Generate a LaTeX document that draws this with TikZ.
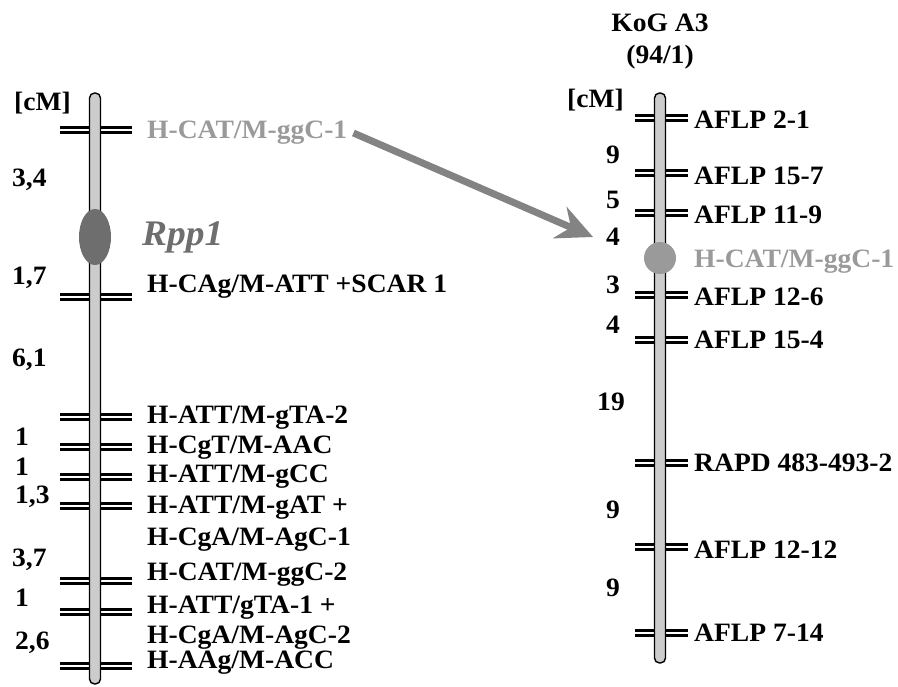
\documentclass[tikz,border=0pt]{standalone}
\usepackage{fontspec}
\setmainfont[FakeStretch=1.04]{Liberation Serif}
\usetikzlibrary{arrows.meta}
\definecolor{lightmark}{HTML}{9A9A9A}
\definecolor{genemark}{HTML}{6E6E6E}
\definecolor{arrowgray}{HTML}{838383}
\tikzset{
  chrom/.style={draw=black, line width=1.4pt, fill=gray!40, rounded corners=5pt},
  tickline/.style={draw=black, line width=2.4pt, double=white, double distance=2.4pt},
  lbl/.style={anchor=west, inner sep=0pt, font=\bfseries\fontsize{26.5}{28}\selectfont},
  dist/.style={lbl},
  rdist/.style={lbl, anchor=center},
}
\begin{document}
\begin{tikzpicture}[x=1pt,y=-1pt]
\useasboundingbox (0,0) rectangle (898,687);
%%% left map
\draw[tickline] (60,130) -- (132,130);
\draw[tickline] (60,297) -- (132,297);
\draw[tickline] (60,417) -- (132,417);
\draw[tickline] (60,447) -- (132,447);
\draw[tickline] (60,477) -- (132,477);
\draw[tickline] (60,506) -- (132,506);
\draw[tickline] (60,581) -- (132,581);
\draw[tickline] (60,612) -- (132,612);
\draw[tickline] (60,666) -- (132,666);
\draw[chrom] (89.5,93) rectangle (100.5,684);
\fill[genemark] (95,237) ellipse (16 and 28);
\node[lbl, text=genemark, font=\bfseries\itshape\fontsize{36}{38}\selectfont] (rpp) at (142,237) {Rpp1};
% distances
\node[dist] (cmA) at (14,103) {[cM]};
\node[dist] (dA1) at (12,180) {3,4};
\node[dist] (dA2) at (12,278) {1,7};
\node[dist] (dA3) at (12,360) {6,1};
\node[dist] (dA4) at (15,437) {1};
\node[dist] (dA5) at (15,467) {1};
\node[dist] (dA6) at (15,497) {1,3};
\node[dist] (dA7) at (12,560) {3,7};
\node[dist] (dA8) at (15,598) {1};
\node[dist] (dA9) at (15,643) {2,6};
% markers
\node[lbl, text=lightmark] (ggcA) at (147,133) {H-CAT/M-ggC-1};
\node[lbl] (mA2) at (147,287) {H-CAg/M-ATT +SCAR 1};
\node[lbl] (mA3) at (147,418) {H-ATT/M-gTA-2};
\node[lbl] (mA4) at (147,448) {H-CgT/M-AAC};
\node[lbl] (mA5) at (147,477) {H-ATT/M-gCC};
\node[lbl] (mA6) at (147,508) {H-ATT/M-gAT +};
\node[lbl] (mA7) at (147,540) {H-CgA/M-AgC-1};
\node[lbl] (mA8) at (147,575) {H-CAT/M-ggC-2};
\node[lbl] (mA9) at (147,608) {H-ATT/gTA-1 +};
\node[lbl] (mA10) at (147,638) {H-CgA/M-AgC-2};
\node[lbl] (mA11) at (147,663) {H-AAg/M-ACC};
%%% right map
\node[lbl, anchor=center] (kog) at (660,23) {KoG A3};
\node[lbl, anchor=center] (pop) at (660,57) {(94/1)};
\draw[tickline] (635,118) -- (688,118);
\draw[tickline] (635,173) -- (688,173);
\draw[tickline] (635,213) -- (688,213);
\draw[tickline] (635,295) -- (688,295);
\draw[tickline] (635,340) -- (688,340);
\draw[tickline] (635,463) -- (688,463);
\draw[tickline] (635,547) -- (688,547);
\draw[tickline] (635,633) -- (688,633);
\draw[chrom] (654.5,93) rectangle (665.5,663);
\fill[lightmark] (660,258) circle (16);
% distances
\node[dist] (cmB) at (567,100) {[cM]};
\node[rdist] (dB1) at (613,155) {9};
\node[rdist] (dB2) at (613,200) {5};
\node[rdist] (dB3) at (613,237) {4};
\node[rdist] (dB4) at (613,285) {3};
\node[rdist] (dB5) at (613,325) {4};
\node[rdist] (dB6) at (611,402) {19};
\node[rdist] (dB7) at (613,510) {9};
\node[rdist] (dB8) at (613,588) {9};
% markers
\node[lbl] (mB1) at (694,120) {AFLP 2-1};
\node[lbl] (mB2) at (694,176) {AFLP 15-7};
\node[lbl] (mB3) at (694,215) {AFLP 11-9};
\node[lbl, text=lightmark] (ggcB) at (694,262) {H-CAT/M-ggC-1};
\node[lbl] (mB4) at (694,297) {AFLP 12-6};
\node[lbl] (mB5) at (694,340) {AFLP 15-4};
\node[lbl] (mB6) at (694,463) {RAPD 483-493-2};
\node[lbl] (mB7) at (694,550) {AFLP 12-12};
\node[lbl] (mB8) at (694,633) {AFLP 7-14};
%%% shared marker
\coordinate (tip) at (593,237);
\draw[arrowgray, line width=7pt, -{Stealth[length=36pt, width=34pt, inset=12pt]}] ([xshift=6pt]ggcA.east) -- (tip);
\end{tikzpicture}
\end{document}
